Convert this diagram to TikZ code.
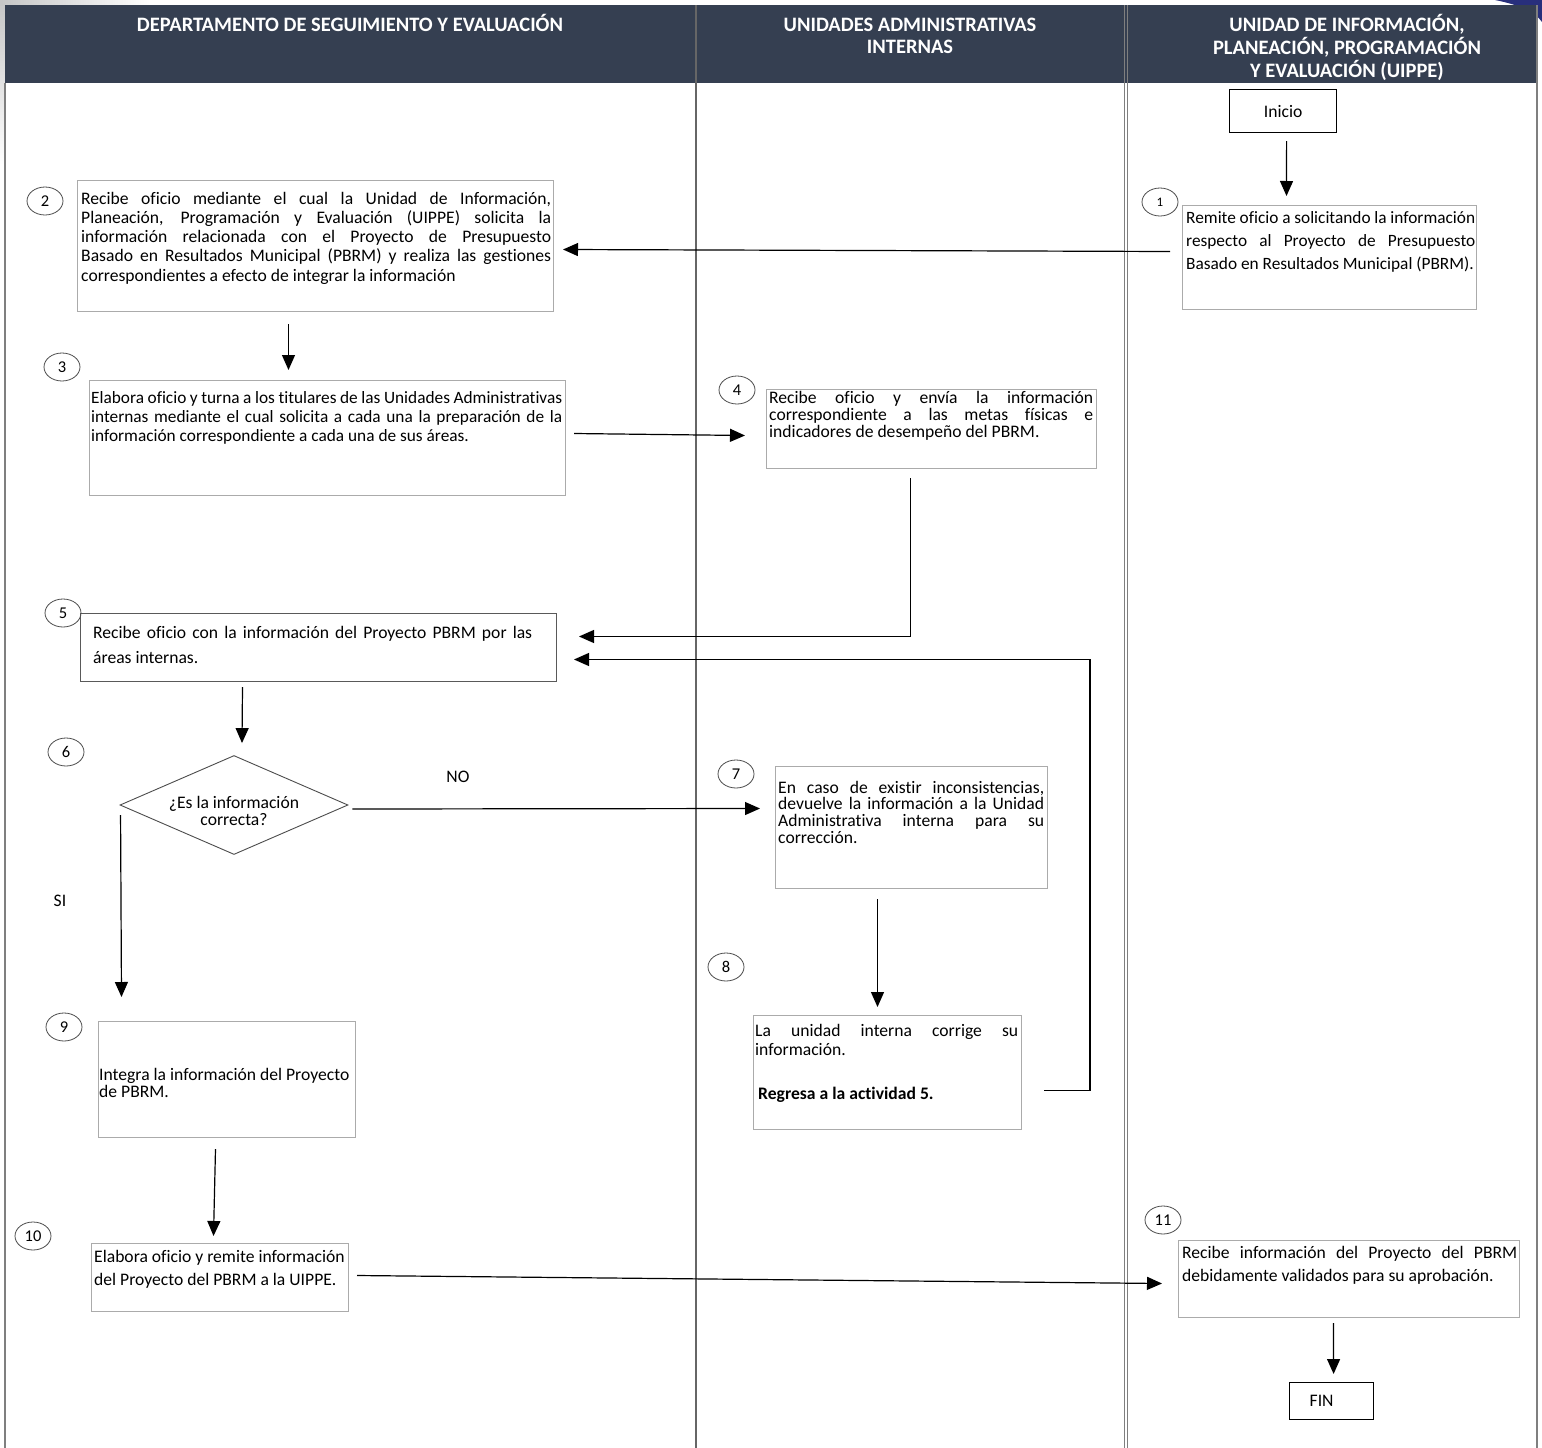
\documentclass[tikz,border=0pt]{standalone}
\usepackage{fontspec}
\setmainfont{Carlito}[Ligatures={TeX,NoCommon}]
\usetikzlibrary{arrows.meta,shapes.geometric}
\definecolor{hdr}{HTML}{353F51}
\definecolor{boxgray}{HTML}{ABABAB}
\definecolor{lanegray}{HTML}{7F7F7F}
\newcommand{\jl}[1]{\makebox[\linewidth][s]{#1}\\}
\newcommand{\bodyfont}[1]{\fontsize{17.6}{#1}\selectfont}
\begin{document}
\begin{tikzpicture}[x=1pt,y=-1pt,
  proc/.style={draw=boxgray, line width=1pt, anchor=north west, inner sep=0pt, rectangle},
  term/.style={draw=black, line width=1.2pt, anchor=north west, inner sep=0pt, rectangle, font=\bodyfont{20}},
  txt/.style={anchor=base west, inner sep=0pt},
  num/.style={ellipse, draw=black!70, line width=0.8pt, minimum width=36pt, minimum height=28pt, inner sep=0pt, font=\fontsize{16.5}{16.5}\selectfont},
  conn/.style={-{Triangle[length=15pt,width=13pt]}, line width=1.2pt},
  hdrtxt/.style={anchor=base, inner sep=0pt, text=white},
  lane/.style={draw=lanegray, line width=1.3pt}]
\useasboundingbox (0,0) rectangle (1542,1448);
\fill[white] (0,0) rectangle (1542,1448);
% corner decorations
\shade[top color=gray!45, bottom color=white] (0,0) rectangle (5,165);
\shade[left color=gray!45, right color=white] (0,0) rectangle (150,5);
\fill[hdr!75!blue] (1495,0) .. controls (1520,5) and (1535,12) .. (1542,22) -- (1542,0) -- cycle;
% header band
\fill[hdr] (5,5) rectangle (1537,83);
% lanes
\draw[lane] (5,83) -- (5,1448);
\draw[draw=black!60, line width=1.3pt] (696,5) -- (696,1448);
\draw[draw=lanegray, line width=1pt] (1124.5,5) -- (1124.5,1448);
\draw[draw=lanegray, line width=1pt] (1127.5,5) -- (1127.5,1448);
\draw[lane] (1537,5) -- (1537,1448);
% header texts
\node[hdrtxt] (h1) at (350,31) {\parbox[t]{560pt}{\centering\fontsize{20.5}{23}\selectfont\bfseries DEPARTAMENTO DE SEGUIMIENTO Y EVALUACIÓN}};
\node[hdrtxt] (h2) at (910,31) {\parbox[t]{400pt}{\centering\fontsize{20.5}{22}\selectfont\bfseries UNIDADES ADMINISTRATIVAS\\INTERNAS}};
\node[hdrtxt] (h3) at (1347,31) {\parbox[t]{400pt}{\centering\fontsize{20.5}{23}\selectfont\bfseries UNIDAD DE INFORMACIÓN,\\PLANEACIÓN, PROGRAMACIÓN\\Y EVALUACIÓN (UIPPE)}};

% terminals
\node[term, minimum width=107pt, minimum height=43pt] (ini) at (1229,89) {Inicio};
\node[term, minimum width=84pt, minimum height=37pt] (fin) at (1289,1382) {FIN\hspace*{20pt}};

% process boxes
\node[proc, minimum width=294pt, minimum height=104pt] (b1) at (1182,205) {};
\node[proc, minimum width=476pt, minimum height=131pt] (b2) at (77,180) {};
\node[proc, minimum width=476pt, minimum height=115pt] (b3) at (89,380) {};
\node[proc, minimum width=330pt, minimum height=79pt] (b4) at (766,389) {};
\node[proc, draw=black!65, minimum width=476pt, minimum height=68pt] (b5) at (80,613) {};
\node[diamond, aspect=2.3, draw=black!70, line width=0.9pt, minimum width=228pt, minimum height=99pt, inner sep=0pt] (dia) at (234,805) {};
\node[align=center, inner sep=0pt, font=\fontsize{17.6}{17}\selectfont] (dtxt) at (234,811) {¿Es la información\\correcta?};
\node[proc, minimum width=272pt, minimum height=122pt] (b7) at (775,766) {};
\node[proc, minimum width=268pt, minimum height=114pt] (b8) at (753,1015) {};
\node[proc, minimum width=257pt, minimum height=116pt] (b9) at (98,1021) {};
\node[proc, minimum width=257pt, minimum height=68pt] (b10) at (91,1243) {};
\node[proc, minimum width=341pt, minimum height=77pt] (b11) at (1178,1240) {};

% box texts
\node[txt] (t1) at (1186,223) {\parbox[t]{289pt}{\fontsize{17.3}{23}\selectfont%
\jl{Remite oficio a solicitando la información}%
\jl{respecto al Proyecto de Presupuesto}%
Basado en Resultados Municipal (PBRM).}};
\node[txt] (t2) at (81,204) {\parbox[t]{470pt}{\bodyfont{19.25}%
\jl{Recibe oficio mediante el cual la Unidad de Información,}%
\jl{Planeación, Programación y Evaluación (UIPPE) solicita la}%
\jl{información relacionada con el Proyecto de Presupuesto}%
\jl{Basado en Resultados Municipal (PBRM) y realiza las gestiones}%
correspondientes a efecto de integrar la información}};
\node[txt] (t3) at (91,403) {\parbox[t]{471pt}{\fontsize{17.3}{19}\selectfont%
\jl{Elabora oficio y turna a los titulares de las Unidades Administrativas}%
\jl{internas mediante el cual solicita a cada una la preparación de la}%
información correspondiente a cada una de sus áreas.}};
\node[txt] (t4) at (769,403) {\parbox[t]{324pt}{\bodyfont{17}%
\jl{Recibe oficio y envía la información}%
\jl{correspondiente a las metas físicas e}%
indicadores de desempeño del PBRM.}};
\node[txt] (t5) at (93,638) {\parbox[t]{439pt}{\bodyfont{25}%
\jl{Recibe oficio con la información del Proyecto PBRM por las}%
áreas internas.}};
\node[txt] (t7) at (778,793) {\parbox[t]{266pt}{\bodyfont{16.7}%
\jl{En caso de existir inconsistencias,}%
\jl{devuelve la información a la Unidad}%
\jl{Administrativa interna para su}%
corrección.}};
\node[txt] (t8) at (755,1036) {\parbox[t]{263pt}{\bodyfont{19}%
\jl{La unidad interna corrige su}%
información.}};
\node[txt] (t8b) at (758,1099) {\bodyfont{19}\bfseries Regresa a la actividad 5.};
\node[txt] (t9) at (99,1080) {\parbox[t]{256pt}{\bodyfont{17}%
Integra la información del Proyecto\\de PBRM.}};
\node[txt] (t10) at (94,1262) {\parbox[t]{256pt}{\bodyfont{23}%
Elabora oficio y remite información\\del Proyecto del PBRM a la UIPPE.}};
\node[txt] (t11) at (1182,1258) {\parbox[t]{335pt}{\bodyfont{23}%
\jl{Recibe información del Proyecto del PBRM}%
debidamente validados para su aprobación.}};

% step numbers
\node[num, font=\fontsize{13}{13}\selectfont] (c1) at (1160,202) {1};
\node[num] (c2) at (45,201) {2};
\node[num] (c3) at (62,367) {3};
\node[num] (c4) at (737,390) {4};
\node[num] (c5) at (63,613) {5};
\node[num] (c6) at (66,752) {6};
\node[num] (c7) at (736,774) {7};
\node[num] (c8) at (726,967) {8};
\node[num] (c9) at (64,1027) {9};
\node[num] (c10) at (33,1236) {10};
\node[num] (c11) at (1163,1220) {11};

% labels
\node[font=\bodyfont{17}] (lno) at (458,777) {NO};
\node[font=\bodyfont{17}] (lsi) at (60,901) {SI};

% connectors
\draw[conn] ([xshift=3.5pt,yshift=-8pt]ini.south) -- ([xshift=-43pt,yshift=9pt]b1.north);
\draw[conn] ([xshift=-12pt,yshift=6pt]b1.west) -- ([xshift=9pt,yshift=-3.5pt]b2.east);
\draw[conn] ([xshift=-27pt,yshift=-12pt]b2.south) -- ([xshift=-39pt,yshift=10pt]b3.north);
\draw[conn] ([xshift=8pt,yshift=4.5pt]b3.east) -- ([xshift=-21pt,yshift=-6.5pt]b4.west);
\draw[conn] ([xshift=-21pt,yshift=-9pt]b4.south) |- ([xshift=22pt,yshift=11pt]b5.east);
\draw[conn] ([xshift=22pt,yshift=-18pt]b8.east) -- ++(46,0) |- ([xshift=17pt,yshift=-12pt]b5.east);
\draw[conn] ([xshift=-76pt,yshift=-5pt]b5.south) -- ([xshift=8pt,yshift=12pt]dia.north);
\draw[conn] ([xshift=4pt,yshift=-4pt]dia.east) -- ([xshift=-15pt,yshift=19pt]b7.west);
\draw[conn] ([xshift=1pt,yshift=-10pt]dia.west) -- ([xshift=-105.5pt,yshift=24pt]b9.north);
\draw[conn] ([xshift=-34pt,yshift=-10pt]b7.south) -- ([xshift=-10pt,yshift=8pt]b8.north);
\draw[conn] ([xshift=-11.5pt,yshift=-11pt]b9.south) -- ([xshift=-6.5pt,yshift=7pt]b10.north);
\draw[conn] ([xshift=8pt,yshift=2pt]b10.east) -- ([xshift=-16pt,yshift=-4.5pt]b11.west);
\draw[conn] ([xshift=-15.5pt,yshift=-5pt]b11.south) -- ([xshift=2pt,yshift=8pt]fin.north);
\end{tikzpicture}
\end{document}
